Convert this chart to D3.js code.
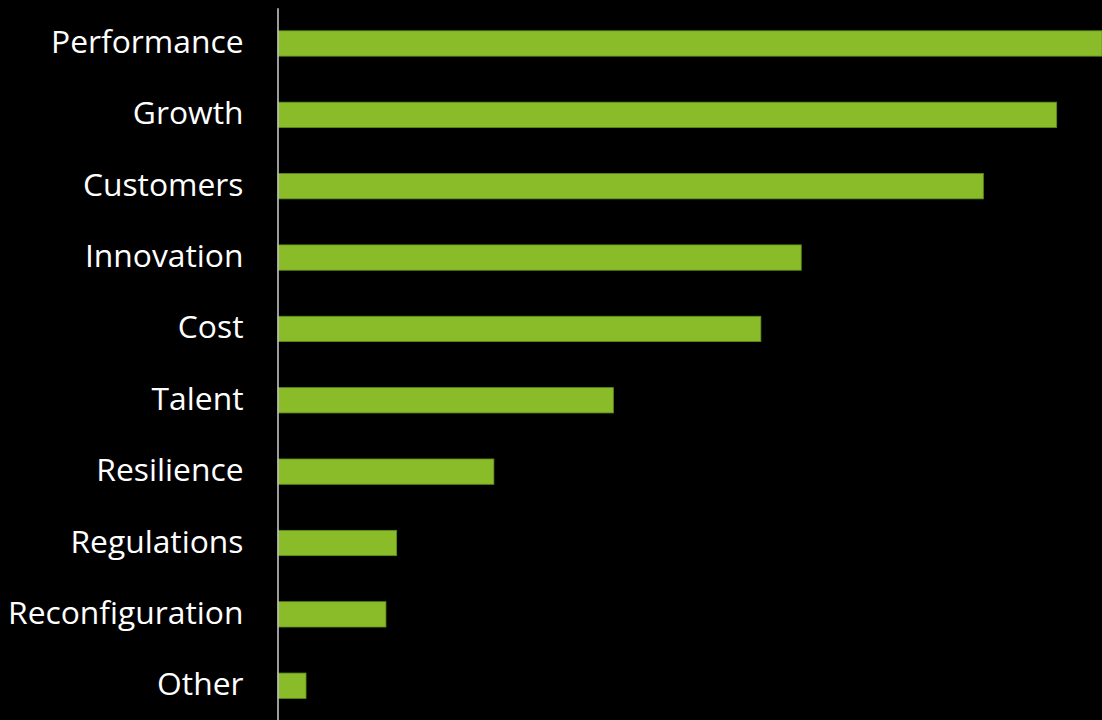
<!DOCTYPE html>
<html>
<head>
<meta charset="utf-8">
<script src="https://cdn.jsdelivr.net/npm/d3@7"></script>
<style>
  html, body { margin: 0; padding: 0; background: #000; }
  svg { display: block; }
  .axis text { font-family: "Open Sans", sans-serif; font-size: 31.8px; fill: #fff; }
</style>
</head>
<body>
<svg id="chart" width="1102" height="720"></svg>
<script>
// Categories, top to bottom
const categories = [
  "Performance", "Growth", "Customers", "Innovation", "Cost",
  "Talent", "Resilience", "Regulations", "Reconfiguration", "Other"
];
// Relative share for each category (Performance = 100)
const values = [100, 94.5, 85.6, 63.5, 58.6, 40.7, 26.2, 14.4, 13.1, 3.4];

const data = categories.map((c, i) => ({ category: c, value: values[i] }));

const width = 1102, height = 720;
const axisX = 277.5;

const svg = d3.select("#chart");

const x = d3.scaleLinear()
  .domain([0, d3.max(values)])
  .range([axisX + 0.5, width]);

const y = d3.scaleBand()
  .domain(categories)
  .range([7.8, 721.4])
  .paddingInner(0.645)
  .paddingOuter(0.3225);

// Bars
svg.append("g")
  .selectAll("rect")
  .data(data)
  .join("rect")
  .attr("x", x(0))
  .attr("y", d => y(d.category))
  .attr("width", d => x(d.value) - x(0))
  .attr("height", y.bandwidth())
  .attr("fill", "#89bc28")
  .attr("stroke", "#5e8c1c")
  .attr("stroke-width", 0.8);

// Category axis
const axis = svg.append("g")
  .attr("class", "axis")
  .attr("transform", `translate(${axisX},0)`)
  .call(d3.axisLeft(y).tickSize(0).tickPadding(34));

axis.select(".domain")
  .attr("stroke", "#c4c4c4")
  .attr("stroke-width", 1.6);
axis.selectAll("text").attr("dy", "0.3em");
</script>
</body>
</html>
